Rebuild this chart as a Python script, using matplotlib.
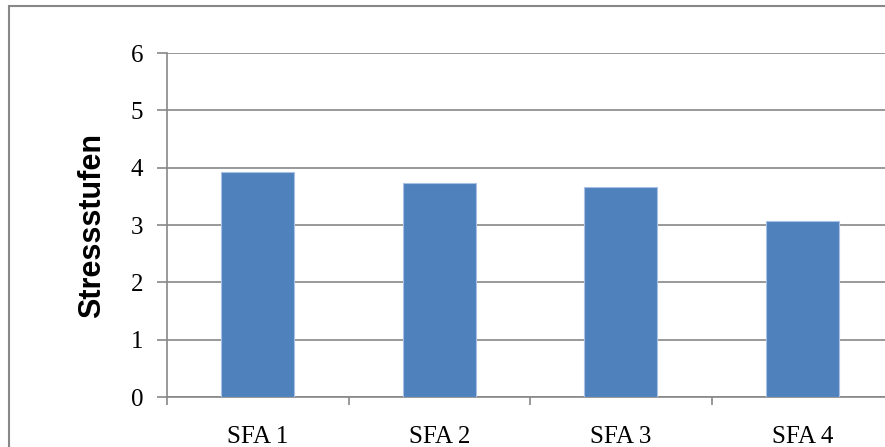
import matplotlib.pyplot as plt
import numpy as np
from matplotlib.patches import Rectangle

# ── Data ──────────────────────────────────────────────────────────────────────
categories = ["SFA 1", "SFA 2", "SFA 3", "SFA 4"]
stress_levels = [3.93, 3.74, 3.67, 3.07]
y_ticks = [0, 1, 2, 3, 4, 5, 6]

BAR_COLOR  = "#4F81BD"
GRID_COLOR = "#888888"

# ── Figure ────────────────────────────────────────────────────────────────────
fig = plt.figure(figsize=(8.85, 4.47), dpi=100)
ax = fig.add_axes([167 / 885, 50 / 447, 726 / 885, 344 / 447])

x = np.arange(len(categories))
ax.bar(x, stress_levels, width=0.4, color=BAR_COLOR,
       edgecolor="#a9c1e2", linewidth=0.8, zorder=3)

ax.set_xlim(-0.5, len(categories) - 0.5)
ax.set_ylim(0, 6)

# horizontal gridlines
ax.set_yticks(y_ticks)
ax.yaxis.grid(True, color=GRID_COLOR, linewidth=1.2, zorder=0)
ax.set_axisbelow(True)

# category boundaries as major ticks, names centred as minor ticks
ax.set_xticks(np.arange(-0.5, len(categories), 1.0))
ax.set_xticklabels([])
ax.set_xticks(x, minor=True)
ax.set_xticklabels(categories, minor=True, fontfamily="Liberation Serif", fontsize=18)
ax.tick_params(axis="x", which="major", length=6, width=1.2, color=GRID_COLOR)
ax.tick_params(axis="x", which="minor", length=0, pad=21)
ax.tick_params(axis="y", length=7, width=1.2, color=GRID_COLOR, pad=10)
for lbl in ax.get_yticklabels():
    lbl.set_fontfamily("Liberation Serif")
    lbl.set_fontsize(18)

for side in ("top", "right"):
    ax.spines[side].set_visible(False)
for side in ("left", "bottom"):
    ax.spines[side].set_color(GRID_COLOR)
    ax.spines[side].set_linewidth(1.2)

ax.set_ylabel("Stressstufen", fontfamily="Liberation Sans", fontweight="bold",
              fontsize=22, labelpad=17)

# chart-area frame
fig.patches.append(Rectangle((9 / 885, -0.1), 1.2, 0.1 + (447 - 6) / 447,
                             transform=fig.transFigure, fill=False,
                             edgecolor=GRID_COLOR, linewidth=1.5, clip_on=False))

fig.savefig("out.png", dpi=100)
